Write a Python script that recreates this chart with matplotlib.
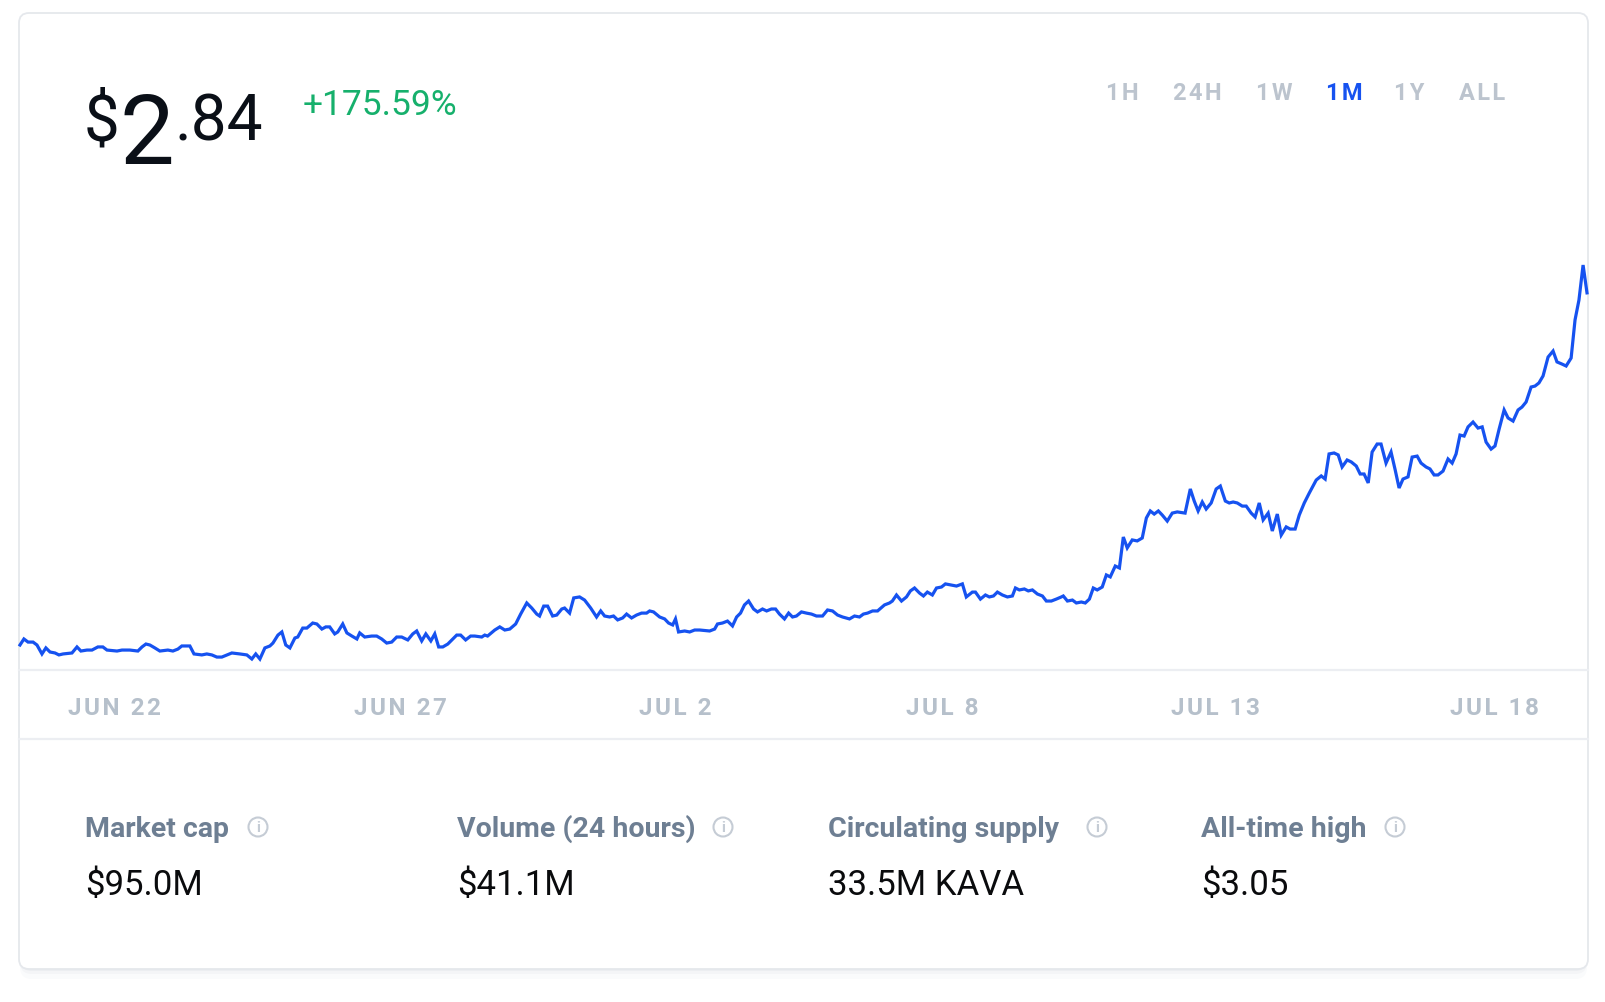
import matplotlib
matplotlib.use("Agg")
import matplotlib.pyplot as plt
from matplotlib.patches import FancyBboxPatch, Circle

plt.rcParams['font.family'] = ['Roboto', 'DejaVu Sans']

# hours since start of the 1M window, and KAVA price in USD
hours = [
    0.0, 1.8, 3.7, 6.0, 7.8, 10.1, 11.9, 13.8, 16.1, 17.9, 19.8, 23.9, 26.2, 28.0, 30.8,
    33.1, 35.8, 38.1, 40.0, 44.6, 46.9, 50.5, 54.2, 56.1, 57.9, 59.7, 62.0, 64.3, 68.0, 70.3,
    72.6, 74.4, 78.1, 80.0, 83.6, 85.9, 88.2, 90.5, 92.8, 97.4, 101.1, 104.3, 106.6, 108.4, 110.3,
    112.6, 114.9, 116.3, 118.6, 120.4, 122.2, 124.1, 126.4, 127.7, 130.0, 131.9, 134.6, 136.5, 138.8, 140.6,
    142.4, 144.7, 146.1, 148.4, 150.3, 152.6, 154.9, 156.2, 158.5, 161.7, 164.0, 166.3, 168.6, 170.9, 173.2,
    175.5, 177.4,
    178.3, 180.6, 182.4, 184.7, 186.6, 188.9, 190.7, 192.5, 194.4, 196.7, 199.0, 200.8, 202.6, 204.9, 207.2,
    209.1, 212.3, 213.7, 215.0, 218.3, 220.6, 222.9, 225.2, 227.9, 230.2, 233.0, 235.3, 237.6, 238.9, 240.8,
    242.6, 244.9, 246.8, 249.1, 250.4, 252.7, 254.6, 257.3, 259.6, 262.4, 265.1, 267.0, 268.8, 271.1, 272.9,
    274.8, 277.1, 278.9, 281.2, 283.5, 285.8, 288.1, 289.5, 291.3, 294.1, 296.4, 298.2, 300.1, 301.4, 302.8,
    305.6, 307.9, 310.2, 312.5, 317.1, 319.4, 320.7, 323.0, 325.3, 327.6, 329.5, 331.3, 333.1, 335.0, 337.3,
    339.1, 341.4, 343.3, 345.5, 347.4, 349.2, 351.5, 353.4, 355.2,
    357.0, 359.3, 361.6, 363.9, 366.2, 369.0, 371.3, 373.6, 375.9, 378.2, 381.4, 383.7, 386.0, 387.8, 389.7,
    392.0, 394.3, 397.5, 399.8, 401.1, 403.0, 405.3, 407.6, 409.4, 411.3, 413.6, 415.4, 417.2, 419.5, 421.4,
    423.7, 425.5, 428.3, 430.6, 433.3, 435.1, 437.9, 439.3, 441.6, 443.9, 445.7, 447.6, 449.4, 451.7, 454.0,
    456.3, 457.7, 459.5, 461.8, 463.6, 465.5, 467.8, 470.1, 471.9, 474.2, 476.5, 478.8, 479.7, 481.6, 483.9,
    485.7, 488.0, 489.8, 491.7, 493.5, 495.3, 497.6, 499.5, 501.3, 503.6, 505.5, 507.3, 509.1, 511.4, 513.7,
    516.0, 517.9, 519.7, 521.5, 523.4, 525.2, 527.5, 529.8, 532.1, 535.7,
    538.1, 539.9, 541.7, 543.6, 545.4, 547.7, 550.0, 551.9, 554.2, 556.0, 557.8, 559.7, 562.0, 563.8, 566.1,
    567.9, 569.8, 571.6, 573.9, 575.8, 578.1, 579.9, 582.2, 584.0, 586.3, 588.2, 590.5, 592.8, 596.0, 598.3,
    600.1, 601.9, 604.2, 606.1, 607.9, 610.2, 612.1, 614.4, 616.2, 618.0, 619.9, 621.7, 624.0, 625.8, 628.1,
    630.4, 632.3, 634.1, 635.9, 638.2, 640.1, 642.4, 644.2, 646.5, 648.3, 650.2, 652.0, 654.3, 656.6, 658.5,
    660.3, 662.1, 664.0, 665.8, 668.1, 670.4, 672.3, 674.1, 676.4, 678.2, 680.1, 682.4, 684.2, 686.5, 688.8,
    690.6, 692.5, 694.8, 696.6, 698.4, 700.3, 702.6, 704.9, 706.7, 709.0, 710.9, 713.2, 715.0, 716.8, 718.7,
    720.5,
]
price = [
    1.030, 1.061, 1.045, 1.045, 1.030, 0.984, 1.015, 0.994, 0.989, 0.979, 0.984, 0.989, 1.020, 0.999, 1.004,
    1.004, 1.020, 1.020, 1.004, 0.999, 1.004, 1.004, 0.999, 1.020, 1.035, 1.030, 1.015, 0.999, 1.004, 0.999,
    1.009, 1.025, 1.025, 0.984, 0.979, 0.984, 0.979, 0.968, 0.968, 0.989, 0.984, 0.979, 0.958, 0.984, 0.958,
    1.015, 1.025, 1.040, 1.081, 1.097, 1.030, 1.015, 1.066, 1.071, 1.117, 1.117, 1.143, 1.138, 1.112, 1.123,
    1.123, 1.087, 1.097, 1.138, 1.092, 1.076, 1.061, 1.092, 1.071, 1.076, 1.076, 1.061, 1.040, 1.045, 1.071,
    1.071, 1.061,
    1.056, 1.087, 1.102, 1.051, 1.087, 1.051, 1.087, 1.020, 1.020, 1.035, 1.061, 1.081, 1.081, 1.056, 1.076,
    1.076, 1.071, 1.081, 1.076, 1.107, 1.123, 1.107, 1.112, 1.138, 1.189, 1.246, 1.220, 1.189, 1.179, 1.230,
    1.230, 1.179, 1.184, 1.215, 1.220, 1.194, 1.272, 1.277, 1.261, 1.220, 1.174, 1.205, 1.179, 1.174, 1.179,
    1.159, 1.169, 1.189, 1.169, 1.184, 1.194, 1.194, 1.205, 1.200, 1.174, 1.164, 1.143, 1.133, 1.164, 1.097,
    1.102, 1.097, 1.107, 1.107, 1.102, 1.112, 1.138, 1.143, 1.153, 1.128, 1.174, 1.194, 1.236, 1.256, 1.215,
    1.200, 1.215, 1.205, 1.215, 1.215, 1.189, 1.164, 1.194, 1.174,
    1.179, 1.200, 1.194, 1.189, 1.179, 1.179, 1.210, 1.205, 1.184, 1.174, 1.164, 1.179, 1.174, 1.189, 1.194,
    1.205, 1.205, 1.236, 1.246, 1.256, 1.287, 1.256, 1.277, 1.308, 1.323, 1.297, 1.282, 1.302, 1.287, 1.323,
    1.328, 1.344, 1.338, 1.333, 1.344, 1.277, 1.302, 1.302, 1.266, 1.287, 1.277, 1.282, 1.302, 1.287, 1.277,
    1.282, 1.323, 1.313, 1.318, 1.308, 1.313, 1.292, 1.282, 1.256, 1.256, 1.266, 1.277, 1.282, 1.256, 1.261,
    1.246, 1.251, 1.246, 1.266, 1.323, 1.313, 1.328, 1.390, 1.380, 1.436, 1.426, 1.585, 1.529, 1.570, 1.565,
    1.580, 1.683, 1.719, 1.703, 1.719, 1.698, 1.667, 1.708, 1.714, 1.708,
    1.832, 1.770, 1.719, 1.765, 1.729, 1.760, 1.832, 1.847, 1.770, 1.760, 1.765, 1.760, 1.744, 1.744, 1.708,
    1.688, 1.760, 1.673, 1.708, 1.616, 1.703, 1.595, 1.637, 1.626, 1.626, 1.698, 1.760, 1.811, 1.878, 1.899,
    1.883, 2.012, 2.017, 2.007, 1.945, 1.981, 1.971, 1.950, 1.909, 1.909, 1.863, 2.022, 2.063, 2.063, 1.965,
    2.022, 1.930, 1.837, 1.883, 1.894, 1.996, 2.001, 1.965, 1.945, 1.935, 1.904, 1.904, 1.924, 1.986, 1.965,
    2.012, 2.109, 2.104, 2.151, 2.176, 2.145, 2.151, 2.073, 2.037, 2.053, 2.140, 2.238, 2.197, 2.181, 2.238,
    2.253, 2.279, 2.356, 2.361, 2.377, 2.413, 2.510, 2.541, 2.485, 2.474, 2.464, 2.505, 2.701, 2.803, 2.983,
    2.840,
]
if len(hours) != len(price):
    raise ValueError(f"{len(hours)} hours vs {len(price)} prices")

date_ticks = [43.2, 175.1, 301.4, 424.1, 549.6, 677.8]
date_labels = ['JUN 22', 'JUN 27', 'JUL 2', 'JUL 8', 'JUL 13', 'JUL 18']

ranges = ['1H', '24H', '1W', '1M', '1Y', 'ALL']
active_range = '1M'

stat_names = ['Market cap', 'Volume (24 hours)', 'Circulating supply', 'All-time high']
stat_values = ['$95.0M', '$41.1M', '33.5M KAVA', '$3.05']

BLUE = '#1652f0'
GREY_TXT = '#b6c0cb'
LINE_GREY = '#eceef2'


def spaced(s):
    # fake css letter-spacing with hair spaces
    return '\u200a'.join(s)


W, H = 1606, 1002
fig = plt.figure(figsize=(W / 100, H / 100), dpi=100, facecolor='white')

# background layer in pixel coords (y down)
bg = fig.add_axes([0, 0, 1, 1])
bg.set_xlim(0, W)
bg.set_ylim(H, 0)
bg.axis('off')

# card + soft shadow
for off, c in [(10, '#fafbfc'), (5, '#f4f5f7'), (2, '#eceef1')]:
    bg.add_patch(FancyBboxPatch((19 + 1, 13 + off), 1569 - 2, 956,
                                boxstyle="round,pad=0,rounding_size=12",
                                fc=c, ec='none', zorder=0))
bg.add_patch(FancyBboxPatch((19, 13), 1569, 956, boxstyle="round,pad=0,rounding_size=10",
                            fc='white', ec='#e5e8ec', lw=1.3, zorder=1))

# separators
bg.plot([19, 1588], [670, 670], color=LINE_GREY, lw=1.6, zorder=2)
bg.plot([19, 1588], [739, 739], color=LINE_GREY, lw=1.6, zorder=2)

# price header
dark = '#0a0f17'
bg.text(84, 140, '$', fontsize=46, fontweight='normal', color=dark, va='baseline', zorder=3)
bg.text(120, 164, '2', fontsize=70, fontweight='normal', color=dark, va='baseline', zorder=3)
bg.text(175, 140, '.84', fontsize=46, fontweight='normal', color=dark, va='baseline', zorder=3)
bg.text(303, 115, '+175.59%', fontsize=25.5, fontweight='normal', color='#16b06c',
        va='baseline', zorder=3)

# range selector
range_x = [1122, 1197, 1274, 1344, 1409, 1482]
for lab, xx in zip(ranges, range_x):
    bg.text(xx, 100, spaced(lab), fontsize=17, fontweight='bold', ha='center', va='baseline',
            color=BLUE if lab == active_range else '#bcc4ce', zorder=3)

# stats row
stat_x = [85, 457, 828, 1201]
icon_x = [258, 723, 1097, 1395]
for name, val, xx, ix in zip(stat_names, stat_values, stat_x, icon_x):
    bg.text(xx, 837, name, fontsize=20.5, fontweight='semibold', color='#6e7f93',
            va='baseline', zorder=3)
    bg.text(xx, 895, val, fontsize=25, color='#0a0b0d', va='baseline', zorder=3)
    bg.add_patch(Circle((ix, 827), 9.5, fill=False, ec='#c5ccd5', lw=1.5, zorder=3))
    bg.text(ix, 828, 'i', fontsize=11, fontweight='bold', color='#c5ccd5',
            ha='center', va='center', zorder=3)

# price chart
ax = fig.add_axes([20 / W, (H - 670) / H, 1567 / W, 420 / H])
ax.patch.set_alpha(0)
ax.plot(hours, price, color=BLUE, lw=2.3, solid_joinstyle='miter', clip_on=False)
ax.set_xlim(0, 720.5)
ax.set_ylim(0.9015, 3.0603)
for s in ax.spines.values():
    s.set_visible(False)
ax.set_yticks([])
ax.set_xticks(date_ticks)
ax.set_xticklabels([spaced(d) for d in date_labels], fontsize=17.5, fontweight='semibold',
                   color=GREY_TXT)
ax.tick_params(axis='x', length=0, pad=19.5)

fig.savefig('out.png', dpi=100, facecolor='white')
